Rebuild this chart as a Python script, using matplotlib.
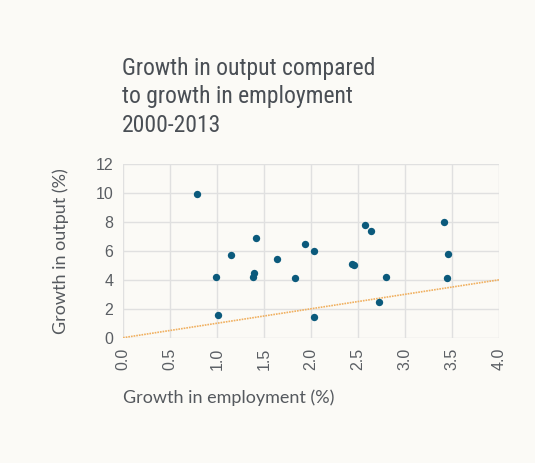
import matplotlib
matplotlib.use("Agg")
import matplotlib.pyplot as plt
from matplotlib import font_manager

# Data
employment = [0.79, 0.99, 1.01, 1.15, 1.38, 1.39, 1.41, 1.64, 1.83, 1.94, 2.03,
              2.03, 2.44, 2.46, 2.57, 2.64, 2.72, 2.80, 3.41, 3.46, 3.45]
output = [9.95, 4.19, 1.57, 5.74, 4.19, 4.45, 6.87, 5.46, 4.12, 6.45, 5.97,
          1.41, 5.12, 5.00, 7.81, 7.35, 2.49, 4.19, 8.02, 5.78, 4.10]
ref_x = [0.0, 4.0]
ref_y = [0.0, 4.0]
x_ticks = [0.0, 0.5, 1.0, 1.5, 2.0, 2.5, 3.0, 3.5, 4.0]
y_ticks = [0, 2, 4, 6, 8, 10, 12]

# pick a narrow face for the title if one is installed
names = {f.name for f in font_manager.fontManager.ttflist}
title_font = "DejaVu Sans"
for cand in ["Liberation Sans Narrow", "Roboto Condensed", "Open Sans Condensed", "DejaVu Sans Condensed"]:
    if cand in names:
        title_font = cand
        break

bg = "#fbfaf6"
fig = plt.figure(figsize=(5.35, 4.63), dpi=100, facecolor=bg)
ax = fig.add_axes([0.23, 0.2706, 0.703, 0.3752], facecolor=bg)

ax.plot(ref_x, ref_y, color="#f0b060", linestyle=(0, (1, 0.6)), linewidth=1.2, zorder=2)
ax.scatter(employment, output, s=28, color="#0b5a7c", zorder=3, linewidths=0)

ax.set_xlim(0, 4.0)
ax.set_ylim(0, 12)
ax.set_xticks(x_ticks)
ax.set_yticks(y_ticks)
ax.set_xticklabels([f"{v:.1f}" for v in x_ticks], rotation=90, family="Liberation Sans",
                   fontsize=11.5, color="#5a5e63")
ax.set_yticklabels([str(v) for v in y_ticks], family="Liberation Sans",
                   fontsize=11.5, color="#5a5e63")
ax.tick_params(length=0, pad=7)
ax.grid(True, color="#e0e0e0", linewidth=1.0)
ax.set_axisbelow(True)
for s in ax.spines.values():
    s.set_visible(False)

ax.set_xlabel("Growth in employment (%)", family="Lato", fontsize=13, color="#55595e",
              loc="left", labelpad=14)
ax.set_ylabel("Growth in output (%)", family="Lato", fontsize=13, color="#55595e",
              labelpad=19)

fig.text(0.228, 0.877, "Growth in output compared\nto growth in employment\n2000-2013",
         family=title_font, fontsize=17, color="#4a4f55",
         va="top", ha="left", linespacing=1.3)

fig.savefig("out.png", dpi=100, facecolor=bg)
